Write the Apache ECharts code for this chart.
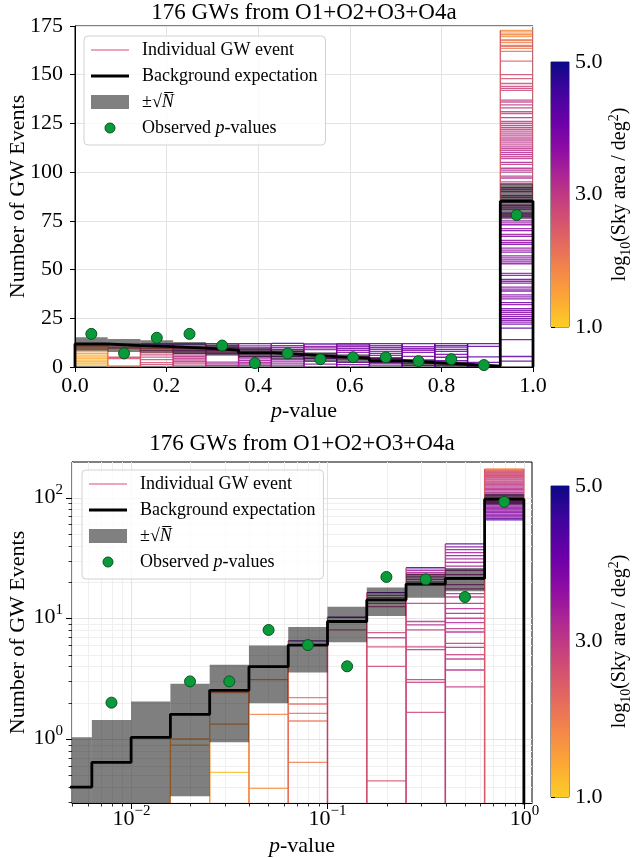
<!DOCTYPE html>
<html>
<head>
<meta charset="utf-8">
<script src="https://cdn.jsdelivr.net/npm/echarts@6/dist/echarts.min.js"></script>
<style>
  html, body { margin: 0; padding: 0; background: #fff; }
  #chart { width: 633px; height: 858px; }
</style>
</head>
<body>
<div id="chart"></div>
<script>
const SERIF = '"Liberation Serif", "Times New Roman", serif';
const titleText = '176 GWs from O1+O2+O3+O4a';

// ---- top panel: linear p-value bins ----
const linEdges = [0, 0.0714, 0.1429, 0.2143, 0.2857, 0.3571, 0.4286, 0.5, 0.5714, 0.6429, 0.7143, 0.7857, 0.8571, 0.9286, 1.0];
const linBackground = [11.8, 11.0, 10.5, 9.7, 8.7, 7.3, 6.3, 5.3, 4.4, 3.3, 2.3, 1.4, 0.5, 85];
const linObserved = [17, 7, 15, 17, 11, 2, 7, 4, 5, 5, 3, 4, 1, 78];
const linEdgeArea = [1.8, 2.0, 2.6, 2.9, 3.1, 3.3, 3.5, 3.6, 3.8, 3.9, 4.0, 4.1, 4.3, 2.5];
// per bin: [cumulative level, log10 sky area]
const linLayers = [
  [[1.0,1.3],[1.8,1.2],[2.7,1.3],[3.5,1.4],[4.4,1.3],[5.2,1.5],[6.1,1.4],[7.0,1.6],[7.9,1.5],[8.8,1.7],[9.7,1.8],[10.5,1.9],[11.3,2.0]],
  [[0.6,2.0],[4.3,2.6],[5.0,2.8],[9.6,2.1],[10.2,2.9],[11.7,4.4]],
  [[1.2,2.7],[2.2,2.6],[3.8,2.8],[5.1,2.7],[6.2,2.9],[7.2,2.6],[8.4,2.8],[9.4,2.5],[10.3,3.0],[11.8,4.4]],
  [[1.0,3.0],[2.0,2.9],[2.8,3.1],[3.6,2.9],[4.5,3.0],[5.3,3.2],[6.1,2.9],[7.0,3.1],[7.8,3.0],[8.6,3.2],[9.4,3.0],[10.2,3.1],[11.8,4.4]],
  [[0.8,3.3],[1.6,3.2],[2.5,3.4],[6.8,3.3],[7.6,3.4],[8.4,3.2],[9.2,3.5],[10.0,3.3],[10.8,3.6],[12.0,4.4]],
  [[0.8,3.4],[1.6,3.6],[2.4,3.3],[3.3,3.5],[4.2,3.4],[5.5,3.6],[6.8,3.4],[7.8,3.5],[8.8,3.7],[9.8,3.5],[10.8,3.8],[12.0,4.4]],
  [[1.0,3.6],[2.0,3.5],[3.0,3.7],[4.0,3.6],[5.5,3.8],[7.0,3.6],[8.0,3.7],[9.0,3.9],[10.0,3.7],[11.0,3.9],[12.1,4.4]],
  [[1.5,3.8],[2.9,3.7],[4.5,3.9],[6.7,3.8],[8.9,3.6],[9.8,3.9],[10.6,3.7],[11.8,4.3]],
  [[1.2,3.9],[2.4,3.8],[4.2,4.0],[5.5,3.9],[7.5,3.7],[8.5,3.9],[9.5,4.0],[10.5,3.8],[11.3,4.0],[12.0,4.3]],
  [[1.0,4.0],[2.2,3.9],[4.5,3.8],[6.0,3.9],[7.0,4.0],[8.0,3.7],[9.0,3.9],[10.0,4.0],[11.0,3.8],[12.0,4.3]],
  [[0.8,4.0],[2.0,3.9],[3.5,4.1],[5.5,3.9],[7.5,4.0],[8.6,3.8],[9.5,4.1],[10.5,3.9],[12.0,4.3]],
  [[1.0,4.1],[2.0,4.0],[3.2,4.2],[5.0,4.1],[6.5,4.0],[8.0,4.2],[9.0,4.1],[10.2,4.0],[11.0,4.2],[12.0,4.4]],
  [[0.6,4.1],[2.4,4.2],[5.2,4.3],[10.6,4.3],[12.0,4.4]],
  [[3.0,4.3],[5.4,4.3],[14,4.2],[20,4.4],[22,4.1],[23,3.8],[24,3.9],[25,4.0],[26,4.1],[27,3.7],[28,3.8],[29,3.9],[30,4.0],[32,3.7],
   [33,4.1],[35,3.9],[36,3.7],[37,3.8],[39,4.0],[40,3.6],[41,3.7],[43,3.9],[44,3.8],[45,4.1],[47,3.8],[48,3.5],[53,3.6],[54,3.8],
   [55,3.9],[56,3.6],[57,3.8],[59,4.0],[60,3.5],[61,3.7],[63,3.9],[64,3.7],[65,3.6],[67,3.8],[68,3.5],[70,3.9],[71,3.6],[73,3.7],
   [74,3.5],[75,3.8],[77,3.6],[78,3.4],[79,3.9],[81,3.7],[82,3.4],[83,3.5],[86,3.4],[87,3.3],[88,3.5],[90,3.3],[91,3.1],[92,3.4],
   [94,3.2],[95,3.0],[97,3.3],[98,3.1],[100,3.1],[101,3.3],[102,3.2],[104,3.0],[105,3.3],[107,3.1],[108,3.0],[109,3.3],[110,3.2],
   [111,3.0],[112,3.1],[113,3.3],[114,3.0],[115,3.1],[116,3.2],[117,2.9],[118,3.0],[119,3.2],[120,3.1],[121,3.0],[122,2.9],
   [123,3.2],[124,3.1],[125,2.9],[126,3.0],[128,3.2],[130,2.9],[131,3.0],[133,3.1],[134.5,3.0],[136,2.9],[137,3.1],[142,2.7],
   [143,2.9],[144,2.8],[145.5,2.7],[148,2.6],[150,2.7],[157,2.4],[162,2.2],[163.5,2.0],[164.5,2.3],[165,2.1],[166.5,1.9],[167.5,2.1],
   [168,1.8],[169.5,1.7],[170.5,1.9],[171,1.6],[172,1.8],[172.8,1.7]]
];

// ---- bottom panel: log p-value bins ----
const logEdges = [0.00398, 0.00631, 0.01, 0.01585, 0.02512, 0.03981, 0.0631, 0.1, 0.1585, 0.2512, 0.3981, 0.631, 1.0];
const logBackground = [0.40, 0.64, 1.03, 1.60, 2.53, 3.97, 6.0, 9.4, 14.2, 19.2, 21.4, 97];
const logObserved = [0, 2, 0, 3, 3, 8, 6, 4, 22, 21, 15, 92];
const logEdgeArea = [0, 0, 0, 1.6, 1.5, 1.9, 2.2, 3.0, 2.6, 2.8, 2.9, 2.5];
const logLayers = [
  [], [], [],
  [[0.89,1.4],[1.0,1.6]],
  [[0.53,1.2],[1.33,1.7],[2.42,1.9]],
  [[0.39,1.7],[1.6,1.9],[3.1,2.0],[4.0,4.5]],
  [[0.64,2.0],[1.41,2.1],[1.63,2.2],[1.95,2.3],[2.2,2.2],[6.0,2.4],[6.5,4.5]],
  [[8.0,2.6],[9.5,2.9],[10.2,4.5]],
  [[0.45,2.6],[4.0,2.8],[5.8,2.7],[6.9,2.9],[7.6,2.8],[12.5,2.9],[13.3,3.0],[14.0,2.8],[14.8,3.1],[15.5,3.2],[16.3,4.5]],
  [[1.66,2.8],[2.95,2.9],[3.1,3.0],[5.5,3.1],[5.8,2.9],[8.0,3.0],[8.8,3.2],[9.4,3.1],[13.3,3.0],[19,3.2],[20,3.3],[21,3.1],[22,3.4],
   [23,3.2],[24,3.3],[25,3.4],[26.2,4.5]],
  [[2.7,3.0],[3.73,3.2],[4.6,3.1],[5.0,2.9],[5.75,3.2],[6.2,3.0],[7.7,3.3],[8.2,3.1],[9.2,3.2],[10,3.0],[11,3.3],[12,3.1],[13.3,3.2],
   [15,3.1],[16,3.3],[17.5,3.2],[19,3.3],[21,3.1],[23,3.4],[25,3.3],[27,3.5],[29,3.3],[31,3.4],[33,3.6],[35,3.4],[37,3.5],[39,3.7],[41.3,4.5]],
  [[65.2,4.4],[67,4.0],[69,3.8],[71,3.6],[73,3.9],[75,3.7],[77,3.5],[79,3.8],[81,3.6],[83,3.4],[85,3.7],[87,3.5],[89,3.3],[91,3.6],
   [93,3.4],[95,3.2],[98,3.5],[101,3.3],[104,3.1],[107,3.4],[110,3.2],[113,3.0],[116,3.3],[119,3.1],[122,2.9],[125,3.2],[128,3.0],
   [131,2.8],[134,3.1],[137,2.9],[140,2.7],[143,3.0],[146,2.8],[149,2.6],[152,2.9],[155,2.7],[158,2.5],[161,2.8],[164,2.6],[167,2.4],
   [170,2.2],[172.6,1.8]]
];

// log-axis ticks
const xMajorLog = [0.01, 0.1, 1];
const xMinorLog = [0.005, 0.006, 0.007, 0.008, 0.009, 0.02, 0.03, 0.04, 0.05, 0.06, 0.07, 0.08, 0.09,
                   0.2, 0.3, 0.4, 0.5, 0.6, 0.7, 0.8, 0.9];
const yMajorLog = [1, 10, 100];
const yMinorLog = [0.3, 0.4, 0.5, 0.6, 0.7, 0.8, 0.9, 2, 3, 4, 5, 6, 7, 8, 9, 20, 30, 40, 50, 60, 70, 80, 90];

// plasma, from log10 area = 1 (bottom of colorbar) to 5 (top)
const plasma = ['#fcce25', '#fca636', '#f2844b', '#e16462', '#cc4778', '#b12a90', '#8f0da4', '#6a00a8', '#41049d', '#0d0887'];

const GRID_MAJOR = '#e3e3e3';
const GRID_MINOR = '#efefef';
const GREEN = '#0a9a3a';

// ---------- data builders ----------
function layerData(edges, layers) {
  const out = [];
  layers.forEach((bin, i) => bin.forEach(d => out.push([edges[i], edges[i + 1], d[0], d[1]])));
  return out;
}
function edgeData(edges, layers, edgeArea) {
  const out = [];
  layers.forEach((bin, i) => {
    if (!bin.length) return;
    const top = Math.max(...bin.map(d => d[0]));
    out.push([edges[i], edges[i + 1], top, edgeArea[i]]);
  });
  return out;
}
function bandData(edges, bg) {
  return bg.map((n, i) => [edges[i], edges[i + 1], n - Math.sqrt(n), n + Math.sqrt(n)]);
}
function stepData(edges, bg, base) {
  const pts = [[edges[0], base]];
  bg.forEach((n, i) => pts.push([edges[i], n]));
  const last = edges[edges.length - 1];
  pts.push([last, bg[bg.length - 1]]);
  pts.push([last, base]);
  return pts;
}
function pointData(edges, obs, isLog) {
  const out = [];
  obs.forEach((n, i) => {
    if (n <= 0) return;
    const c = isLog ? Math.sqrt(edges[i] * edges[i + 1]) : (edges[i] + edges[i + 1]) / 2;
    out.push([c, n]);
  });
  return out;
}

// ---------- render items ----------
function layerItem(params, api) {
  const a = api.coord([api.value(0), api.value(2)]);
  const b = api.coord([api.value(1), api.value(2)]);
  return {
    type: 'line', silent: true,
    shape: { x1: a[0], y1: a[1], x2: b[0], y2: b[1] },
    style: { stroke: api.visual('color'), lineWidth: 1.3, opacity: 0.85 }
  };
}
function edgeItem(base) {
  return function (params, api) {
    const lt = api.coord([api.value(0), api.value(2)]);
    const lb = api.coord([api.value(0), base]);
    const rt = api.coord([api.value(1), api.value(2)]);
    const rb = api.coord([api.value(1), base]);
    const style = { stroke: api.visual('color'), lineWidth: 1.3 };
    return {
      type: 'group', children: [
        { type: 'line', shape: { x1: lt[0], y1: lt[1], x2: lb[0], y2: lb[1] }, style },
        { type: 'line', shape: { x1: rt[0], y1: rt[1], x2: rb[0], y2: rb[1] }, style }
      ]
    };
  };
}
function bandItem(base) {
  return function (params, api) {
    const lo = Math.max(api.value(2), base);
    const p1 = api.coord([api.value(0), api.value(3)]);
    const p2 = api.coord([api.value(1), lo]);
    return {
      type: 'rect', silent: true,
      shape: { x: p1[0], y: p1[1], width: p2[0] - p1[0], height: p2[1] - p1[1] },
      style: { fill: 'rgba(0,0,0,0.5)' }
    };
  };
}
function colorbarItem(params, api) {
  const p1 = api.coord([0, 5]);
  const p2 = api.coord([1, 1]);
  const stops = plasma.slice().reverse().map((c, i, arr) => ({ offset: i / (arr.length - 1), color: c }));
  return {
    type: 'rect', silent: true,
    shape: { x: p1[0], y: p1[1], width: p2[0] - p1[0], height: p2[1] - p1[1] },
    style: { fill: new echarts.graphic.LinearGradient(0, 0, 0, 1, stops) }
  };
}
const powRich = {
  b: { fontFamily: SERIF, fontSize: 22, lineHeight: 26, verticalAlign: 'bottom', fill: '#000' },
  s: { fontFamily: SERIF, fontSize: 15, lineHeight: 15, verticalAlign: 'top', fill: '#000' }
};
function powLabel(v) {
  const n = Math.round(Math.log10(v));
  return '{b|10}{s|' + (n < 0 ? '\u2212' + (-n) : n) + '}';
}
function logDecorItem(params, api) {
  const cs = params.coordSys;
  const left = cs.x, right = cs.x + cs.width, top = cs.y, bottom = cs.y + cs.height;
  const kids = [];
  const seg = (x1, y1, x2, y2, stroke, w) =>
    kids.push({ type: 'line', silent: true, shape: { x1, y1, x2, y2 }, style: { stroke, lineWidth: w } });
  xMinorLog.forEach(v => {
    const x = Math.round(api.coord([v, 1])[0]) + 0.5;
    seg(x, top, x, bottom, GRID_MINOR, 1);
    seg(x, bottom, x, bottom + 3.5, '#000', 0.8);
  });
  yMinorLog.forEach(v => {
    const y = Math.round(api.coord([0.1, v])[1]) + 0.5;
    seg(left, y, right, y, GRID_MINOR, 1);
    seg(left - 3.5, y, left, y, '#000', 0.8);
  });
  xMajorLog.forEach(v => {
    const x = Math.round(api.coord([v, 1])[0]) + 0.5;
    seg(x, top, x, bottom, GRID_MAJOR, 1);
    seg(x, bottom, x, bottom + 6, '#000', 1);
    kids.push({ type: 'text', silent: true, x: x, y: bottom + 1,
      style: { text: powLabel(v), rich: powRich, align: 'center', verticalAlign: 'top' } });
  });
  yMajorLog.forEach(v => {
    const y = Math.round(api.coord([0.1, v])[1]) + 0.5;
    seg(left, y, right, y, GRID_MAJOR, 1);
    seg(left - 6, y, left, y, '#000', 1);
    kids.push({ type: 'text', silent: true, x: left - 9, y: y - 3,
      style: { text: powLabel(v), rich: powRich, align: 'right', verticalAlign: 'middle' } });
  });
  return { type: 'group', children: kids };
}

// ---------- options ----------
const tickLabel = { fontFamily: SERIF, fontSize: 22, color: '#000' };
const italicRich = { i: { fontFamily: SERIF, fontSize: 22, fontStyle: 'italic', color: '#000' } };
const axisName = { fontFamily: SERIF, fontSize: 22, color: '#000', rich: italicRich };
const blackTick = { show: true, inside: false, length: 5, lineStyle: { color: '#000', width: 1 } };
const blackLine = { show: true, lineStyle: { color: '#000', width: 1 } };

function legendFor(left, top) {
  return {
    orient: 'vertical', left: left, top: top,
    itemWidth: 38, itemHeight: 14, itemGap: 8,
    padding: [5, 8, 8, 7],
    backgroundColor: 'rgba(255,255,255,0.8)',
    borderColor: '#d2d2d2', borderWidth: 1, borderRadius: 4,
    selectedMode: false,
    textStyle: {
      fontFamily: SERIF, fontSize: 18, color: '#000', padding: [0, 0, 0, 8],
      rich: { i: { fontFamily: SERIF, fontSize: 18, fontStyle: 'italic', color: '#000' } }
    },
    formatter: name => name === 'Observed p-values' ? 'Observed {i|p}-values'
                     : name === '\u00b1\u221aN' ? '\u00b1\u221a{i|N\u0305}' : name,
    data: [
      { name: 'Individual GW event', icon: 'path://M0,0h38v1.3h-38z', itemStyle: { color: '#e8879f' } },
      { name: 'Background expectation', icon: 'path://M0,0h38v2.8h-38z', itemStyle: { color: '#000' } },
      { name: '\u00b1\u221aN', icon: 'path://M0,0h38v14h-38z', itemStyle: { color: '#808080' } },
      { name: 'Observed p-values',
        icon: 'path://M0,0L0,0M14,14L14,14M12,7A5,5,0,1,1,2,7A5,5,0,1,1,12,7Z',
        itemStyle: { color: GREEN, borderColor: '#05561f', borderWidth: 1 } }
    ]
  };
}

function cbAxis(gridIndex) {
  return {
    type: 'value', gridIndex, min: 1, max: 5, interval: 2, position: 'right',
    axisLine: { show: false }, splitLine: { show: false },
    axisTick: { show: true, length: 4, lineStyle: { color: '#000' } },
    axisLabel: Object.assign({ margin: 6, formatter: v => v.toFixed(1) }, tickLabel),
    name: '{n|log}{d|10}{n|(Sky area / deg}{u|2}{n|)}',
    nameLocation: 'middle', nameRotate: 90, nameGap: 38,
    nameTextStyle: {
      fontFamily: SERIF, fontSize: 20, color: '#000',
      rich: {
        n: { fontFamily: SERIF, fontSize: 20, lineHeight: 26, verticalAlign: 'middle', color: '#000' },
        d: { fontFamily: SERIF, fontSize: 14, lineHeight: 14, verticalAlign: 'bottom', color: '#000' },
        u: { fontFamily: SERIF, fontSize: 14, lineHeight: 14, verticalAlign: 'top', color: '#000' }
      }
    }
  };
}

const gridBase = { show: true, borderColor: '#000', borderWidth: 1, backgroundColor: 'transparent',
                   containLabel: false, outerBoundsMode: 'none' };

const option = {
  animation: false,
  backgroundColor: '#fff',
  graphic: [
    { type: 'text', x: 304, y: 13, style: { text: titleText, font: '23px ' + SERIF, fill: '#000',
      textAlign: 'center', textVerticalAlign: 'middle', align: 'center', verticalAlign: 'middle' } },
    { type: 'text', x: 302, y: 444, style: { text: titleText, font: '23px ' + SERIF, fill: '#000',
      textAlign: 'center', textVerticalAlign: 'middle', align: 'center', verticalAlign: 'middle' } }
  ],
  legend: [legendFor(84, 36), legendFor(82, 470)],
  visualMap: {
    type: 'continuous', show: false, seriesIndex: [0, 1, 6, 7], dimension: 3,
    min: 1, max: 5, inRange: { color: plasma }
  },
  grid: [
    Object.assign({ left: 75, top: 26, width: 458, height: 341 }, gridBase),
    Object.assign({ left: 72, top: 462, width: 460, height: 341 }, gridBase),
    Object.assign({ left: 551, top: 62, width: 18, height: 265 }, gridBase, { borderWidth: 0.8 }),
    Object.assign({ left: 551, top: 486, width: 18, height: 311 }, gridBase, { borderWidth: 0.8 })
  ],
  xAxis: [
    { type: 'value', gridIndex: 0, min: 0, max: 1, interval: 0.2,
      axisLine: blackLine, axisTick: blackTick,
      axisLabel: Object.assign({ margin: 8, formatter: v => v.toFixed(1) }, tickLabel),
      splitLine: { show: true, lineStyle: { color: GRID_MAJOR, width: 1 } },
      name: '{i|p}-value', nameLocation: 'middle', nameGap: 33, nameMoveOverlap: false, nameTextStyle: axisName },
    { type: 'log', gridIndex: 1, min: 0.005, max: 1.1,
      axisLine: blackLine, axisTick: { show: false }, axisLabel: { show: false }, splitLine: { show: false },
      name: '{i|p}-value', nameLocation: 'middle', nameGap: 32, nameTextStyle: axisName },
    { type: 'value', gridIndex: 2, min: 0, max: 1, show: false },
    { type: 'value', gridIndex: 3, min: 0, max: 1, show: false }
  ],
  yAxis: [
    { type: 'value', gridIndex: 0, min: 0, max: 175, interval: 25,
      axisLine: blackLine, axisTick: blackTick,
      axisLabel: Object.assign({ margin: 12 }, tickLabel),
      splitLine: { show: true, lineStyle: { color: GRID_MAJOR, width: 1 } },
      name: 'Number of GW Events', nameLocation: 'middle', nameGap: 46, nameMoveOverlap: false,
      nameTextStyle: axisName },
    { type: 'log', gridIndex: 1, min: 0.295, max: 197,
      axisLine: blackLine, axisTick: { show: false }, axisLabel: { show: false }, splitLine: { show: false },
      name: 'Number of GW Events', nameLocation: 'middle', nameGap: 43, nameTextStyle: axisName },
    cbAxis(2),
    cbAxis(3)
  ],
  series: [
    // top panel
    { name: 'Individual GW event', type: 'custom', xAxisIndex: 0, yAxisIndex: 0, z: 2, clip: true,
      renderItem: layerItem, encode: { x: [0, 1], y: 2 }, data: layerData(linEdges, linLayers) },
    { name: 'gw-edges', type: 'custom', xAxisIndex: 0, yAxisIndex: 0, z: 2, clip: true,
      renderItem: edgeItem(0), encode: { x: [0, 1], y: 2 }, data: edgeData(linEdges, linLayers, linEdgeArea) },
    { name: '\u00b1\u221aN', type: 'custom', xAxisIndex: 0, yAxisIndex: 0, z: 3, clip: true,
      itemStyle: { color: '#808080' },
      renderItem: bandItem(0), encode: { x: [0, 1], y: 3 }, data: bandData(linEdges, linBackground) },
    { name: 'Background expectation', type: 'line', xAxisIndex: 0, yAxisIndex: 0, z: 4, step: 'end',
      symbol: 'none', lineStyle: { color: '#000', width: 2.8 }, itemStyle: { color: '#000' },
      data: stepData(linEdges, linBackground, 0) },
    { name: 'Observed p-values', type: 'scatter', xAxisIndex: 0, yAxisIndex: 0, z: 5, symbolSize: 11,
      itemStyle: { color: GREEN, borderColor: '#05561f', borderWidth: 1, opacity: 1 },
      data: pointData(linEdges, linObserved, false) },
    // bottom panel
    { name: 'log-axes', type: 'custom', xAxisIndex: 1, yAxisIndex: 1, z: 1, clip: false, silent: true,
      renderItem: logDecorItem, data: [[0.1, 1]] },
    { name: 'Individual GW event', type: 'custom', xAxisIndex: 1, yAxisIndex: 1, z: 2, clip: true,
      renderItem: layerItem, encode: { x: [0, 1], y: 2 }, data: layerData(logEdges, logLayers) },
    { name: 'gw-edges', type: 'custom', xAxisIndex: 1, yAxisIndex: 1, z: 2, clip: true,
      renderItem: edgeItem(0.01), encode: { x: [0, 1], y: 2 }, data: edgeData(logEdges, logLayers, logEdgeArea) },
    { name: '\u00b1\u221aN', type: 'custom', xAxisIndex: 1, yAxisIndex: 1, z: 3, clip: true,
      itemStyle: { color: '#808080' },
      renderItem: bandItem(0.01), encode: { x: [0, 1], y: 3 }, data: bandData(logEdges, logBackground) },
    { name: 'Background expectation', type: 'line', xAxisIndex: 1, yAxisIndex: 1, z: 4, step: 'end',
      symbol: 'none', lineStyle: { color: '#000', width: 2.8 }, itemStyle: { color: '#000' },
      data: stepData(logEdges, logBackground, 0.01) },
    { name: 'Observed p-values', type: 'scatter', xAxisIndex: 1, yAxisIndex: 1, z: 5, symbolSize: 11,
      itemStyle: { color: GREEN, borderColor: '#05561f', borderWidth: 1, opacity: 1 },
      data: pointData(logEdges, logObserved, true) },
    // colorbars
    { name: 'cb-top', type: 'custom', xAxisIndex: 2, yAxisIndex: 2, silent: true, clip: false,
      renderItem: colorbarItem, data: [[0.5, 3]] },
    { name: 'cb-bottom', type: 'custom', xAxisIndex: 3, yAxisIndex: 3, silent: true, clip: false,
      renderItem: colorbarItem, data: [[0.5, 3]] }
  ]
};

const chart = echarts.init(document.getElementById('chart'));
chart.setOption(option);
window.addEventListener('resize', () => chart.resize());
</script>
</body>
</html>
